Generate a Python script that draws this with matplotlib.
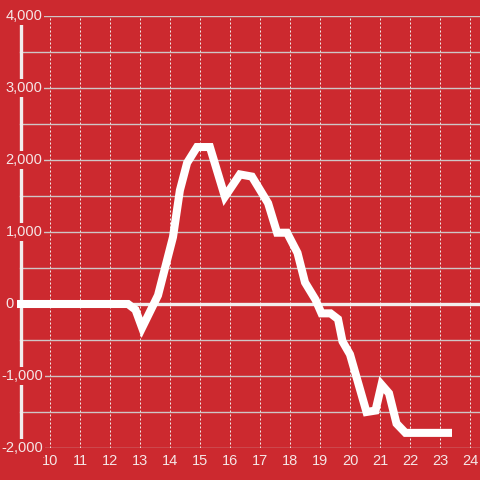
import matplotlib
matplotlib.use("Agg")
import matplotlib.pyplot as plt

x_vals = [8.9, 12.6, 12.85, 13.07, 13.6, 14.1, 14.33, 14.57, 14.9, 15.33, 15.83,
          16.33, 16.73, 17.27, 17.57, 17.9, 18.25, 18.5, 18.85, 19.05, 19.35,
          19.6, 19.75, 20.0, 20.55, 20.85, 21.05, 21.3, 21.55, 21.85, 23.4]
y_vals = [0, 0, -80, -330, 120, 930, 1580, 1960, 2180, 2180, 1490,
          1800, 1770, 1400, 990, 990, 710, 300, 60, -130, -130,
          -210, -520, -700, -1500, -1480, -1120, -1240, -1660, -1790, -1790]
x_ticks = list(range(10, 25))
y_ticks = [-2000, -1000, 0, 1000, 2000, 3000, 4000]
y_tick_labels = ["-2,000", "-1,000", "0", "1,000", "2,000", "3,000", "4,000"]
y_minor = [-1500, -500, 500, 1500, 2500, 3500]

bg = "#cc292f"
txt = "#f5e6e6"
fam = ["Liberation Sans", "DejaVu Sans"]

fig = plt.figure(figsize=(4.8, 4.8), dpi=100, facecolor=bg)
# axes from px 16 to 480 horizontally, px 16 to 448 vertically
ax = fig.add_axes([16/480, 32/480, 464/480, 432/480], facecolor=bg)
ax.set_xlim(10 - 34/30, 10 + 430/30)
ax.set_ylim(-2000, 4000)
for s in ax.spines.values():
    s.set_visible(False)

ax.set_xticks(x_ticks)
ax.set_xticklabels([str(v) for v in x_ticks], fontsize=10.5, color=txt, family=fam)
ax.tick_params(axis="x", length=0, pad=4.5)
ax.set_yticks([])

spine_x = 10 - 29.5/30
for xv in x_ticks:
    ax.axvline(xv, color="#f0e8e8", lw=0.72, ls=(0, (2, 2)), zorder=1)
for yv in y_ticks + y_minor:
    if yv != 0:
        ax.axhline(yv, xmin=4/464, color="#cfc6c6", lw=1.0, zorder=1)
ax.axhline(0, xmin=4/464, color="#f2eded", lw=2.4, zorder=2)
ax.axvline(spine_x, color="#f2eded", lw=2.4, zorder=3)

ax.plot(x_vals, y_vals, color="white", lw=5.8, solid_joinstyle="miter",
        solid_capstyle="butt", zorder=4)

for yv, lab in zip(y_ticks, y_tick_labels):
    if lab.startswith("-"):
        xpos, ha = 10 - 7/30, "right"
    else:
        xpos, ha = 10 - 44.5/30, "left"
    ax.text(xpos, yv, lab, ha=ha, va="center", fontsize=10.5, color=txt,
            family=fam, zorder=10, clip_on=False,
            bbox=dict(facecolor=bg, edgecolor="none", pad=1.5))

fig.savefig("out.png", dpi=100, facecolor=bg)
